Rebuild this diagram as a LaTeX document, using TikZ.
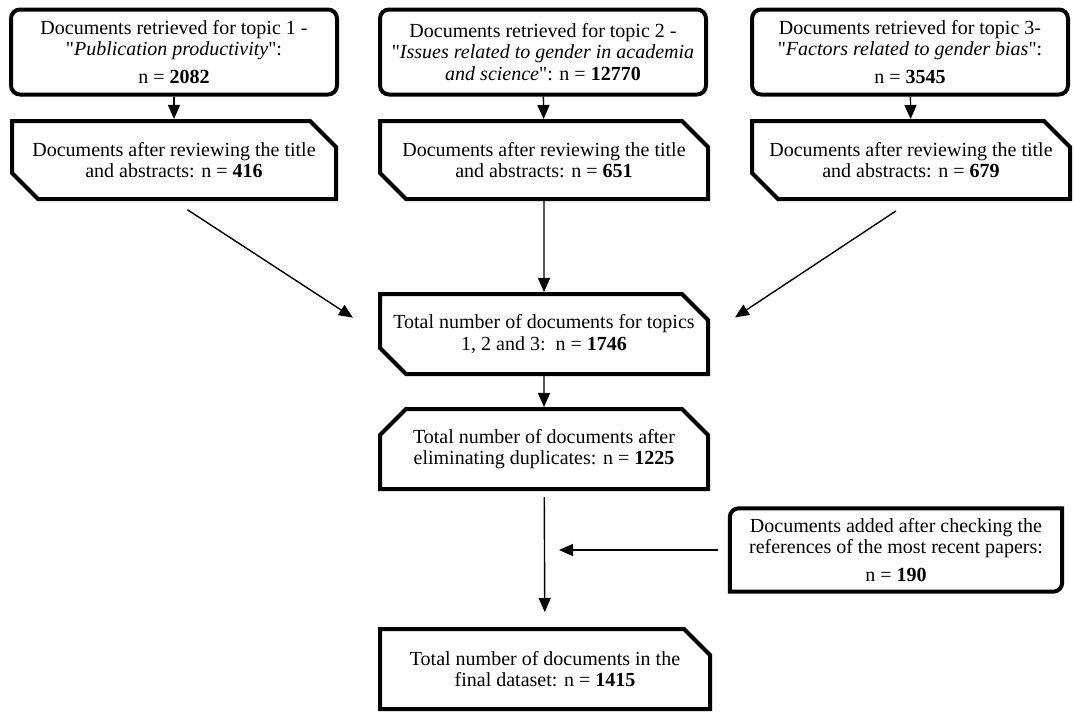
\documentclass[tikz,border=0pt]{standalone}
\usepackage{fontspec}
\setmainfont{Liberation Serif}
\usetikzlibrary{arrows.meta,shapes.misc}

\begin{document}
\begin{tikzpicture}[x=1pt,y=-1pt,>={Triangle[width=12pt,length=14pt]},
  txt/.style={align=center,font=\fontsize{20}{21.5}\selectfont,inner sep=0pt},
  topbox/.style={txt,draw,line width=4pt,rounded corners=9pt,minimum height=85pt},
  snipbox/.style={txt,draw,line width=4pt,chamfered rectangle,
    chamfered rectangle xsep=13pt,chamfered rectangle ysep=13pt,
    chamfered rectangle corners={#1},minimum height=78pt},
  arr/.style={->,line width=1.4pt}]
  \useasboundingbox (0,0) rectangle (1074,713);
  % retrieved documents
  \node[topbox,minimum width=326pt] (top1) at (174,52) {Documents retrieved for topic 1 -\\
    \textquotedbl\textit{Publication productivity}\textquotedbl:\\[6pt] n = \textbf{2082}};
  \node[topbox,minimum width=326pt] (top2) at (543,52) {Documents retrieved for topic 2 -\\
    \textquotedbl\textit{Issues related to gender in academia}\\ \textit{and science}\textquotedbl: n = \textbf{12770}};
  \node[topbox,minimum width=316pt] (top3) at (910,52) {Documents retrieved for topic 3-\\
    \textquotedbl\textit{Factors related to gender bias}\textquotedbl:\\[6pt] n = \textbf{3545}};
  % after title and abstracts
  \node[snipbox={north east,south west},minimum width=324pt] (rev1) at (174,160)
    {Documents after reviewing the title\\ and abstracts: n = \textbf{416}};
  \node[snipbox={north east,south west},minimum width=328pt] (rev2) at (544,160)
    {Documents after reviewing the title\\ and abstracts: n = \textbf{651}};
  \node[snipbox={north east,south west},minimum width=318pt] (rev3) at (911,160)
    {Documents after reviewing the title\\ and abstracts: n = \textbf{679}};
  % totals
  \node[snipbox={north east,south west},minimum width=328pt,minimum height=80pt] (total) at (544,334)
    {Total number of documents for topics\\ 1, 2 and 3:\ \ n = \textbf{1746}};
  \node[snipbox={north east,north west},minimum width=328pt,minimum height=80pt] (dup) at (544,449)
    {Total number of documents after\\ eliminating duplicates: n = \textbf{1225}};
  \node[snipbox={north east},minimum width=330pt,minimum height=80pt] (final) at (545,669)
    {Total number of documents in the\\ final dataset: n = \textbf{1415}};
  % added by references
  \node[txt,minimum width=332pt,minimum height=83pt] (add) at (896,550)
    {Documents added after checking the\\ references of the most recent papers:\\[6pt] n = \textbf{190}};
  \draw[line width=4pt] (add.north east) -- ([xshift=9pt]add.north west)
    arc[start angle=90,end angle=180,radius=9pt] -- (add.south west)
    -- ([xshift=-9pt]add.south east) arc[start angle=270,end angle=360,radius=9pt] -- cycle;
  \coordinate (join) at (dup.south |- add.west);
  % connectors
  \draw[arr] (top1) -- (rev1);
  \draw[arr] (top2) -- (rev2);
  \draw[arr] (top3) -- (rev3);
  \draw[arr,shorten <=16pt,shorten >=30pt] (rev1.south) -- (total.west);
  \draw[arr] (rev2) -- (total);
  \draw[arr,shorten <=18pt,shorten >=30pt] (rev3.south) -- (total.east);
  \draw[arr] (total) -- (dup);
  \draw[arr,shorten <=6pt,shorten >=15pt] (dup) -- (final);
  \draw[arr,shorten <=12pt,shorten >=15pt] (add.west) -- (join);
\end{tikzpicture}
\end{document}
